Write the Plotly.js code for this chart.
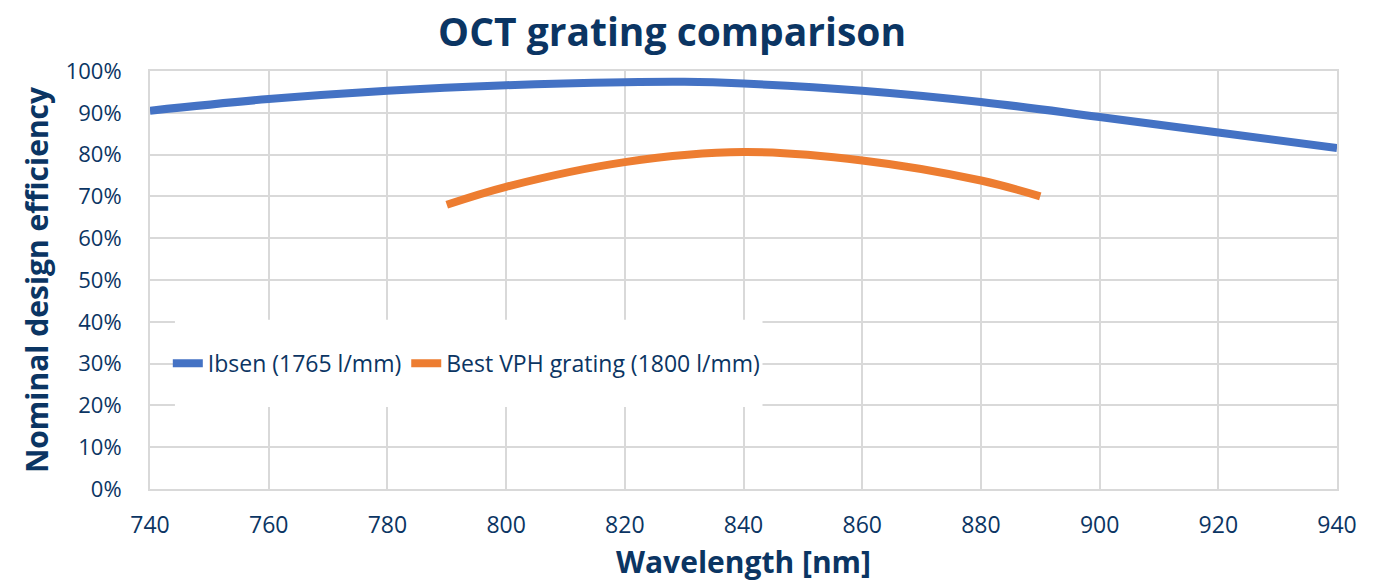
<!DOCTYPE html>
<html><head><meta charset="utf-8">
<script src="https://cdn.plot.ly/plotly-3.0.1.min.js"></script>
<style>html,body{margin:0;padding:0;background:#fff}#chart{width:1393px;height:582px}</style>
</head><body><div id="chart"></div>
<script>
const ibsenWl = [740, 760, 780, 800, 820, 830, 840, 860, 880, 900, 920, 940];
const ibsenEff = [90.5, 93.3, 95.3, 96.6, 97.3, 97.4, 97.0, 95.3, 92.6, 89.0, 85.3, 81.6];
const vphWl = [790, 800, 820, 840, 860, 880, 890];
const vphEff = [68.0, 72.3, 78.2, 80.6, 78.6, 73.8, 70.0];
const seriesNames = ["Ibsen (1765 l/mm)", "Best VPH grating (1800 l/mm)"];
const navy = "#0b3563";
const fontFam = "'Open Sans', Roboto, sans-serif";

const traces = [
  {x: ibsenWl, y: ibsenEff, name: seriesNames[0], mode: "lines",
   line: {color: "#4472c4", width: 8, shape: "spline", smoothing: 1.0}},
  {x: vphWl, y: vphEff, name: seriesNames[1], mode: "lines",
   line: {color: "#ed7d31", width: 8, shape: "spline", smoothing: 1.0}}
];
const layout = {
  width: 1393, height: 582,
  margin: {l: 150, r: 56, t: 71, b: 93},
  paper_bgcolor: "#fff", plot_bgcolor: "#fff",
  font: {family: fontFam, color: navy},
  title: {text: "<b>OCT grating comparison</b>", x: 0.4825, xanchor: "center", yref: "container", y: 0.945, yanchor: "middle",
          font: {size: 39, color: navy, family: fontFam}},
  xaxis: {range: [740, 940], dtick: 20, tick0: 740, showgrid: true, gridcolor: "#d9d9d9", gridwidth: 2,
          showline: true, linecolor: "#d9d9d9", linewidth: 2, mirror: true, zeroline: false, ticks: "",
          ticklabelstandoff: 14,
          tickfont: {size: 23, color: navy, family: fontFam},
          title: {text: "<b>Wavelength [nm]</b>", font: {size: 30, color: navy, family: fontFam}, standoff: 17}},
  yaxis: {range: [0, 100], dtick: 10, ticksuffix: "%", showgrid: true, gridcolor: "#d9d9d9", gridwidth: 2,
          showline: true, linecolor: "#d9d9d9", linewidth: 2, mirror: true, zeroline: false, ticks: "",
          ticklabelstandoff: 22,
          tickfont: {size: 22, color: navy, family: fontFam},
          title: {text: "<b>Nominal design efficiency</b>", font: {size: 30, color: navy, family: fontFam}, standoff: 8}},
  shapes: [{type: "rect", xref: "paper", yref: "paper", x0: 0.021, x1: 0.516, y0: 0.196, y1: 0.405,
            fillcolor: "#fff", line: {width: 0}, layer: "above"}],
  showlegend: true,
  legend: {orientation: "h", x: 0.015, y: 0.301, xanchor: "left", yanchor: "middle", bgcolor: "rgba(0,0,0,0)",
           font: {size: 23, color: navy, family: fontFam}, itemwidth: 30,
           borderwidth: 0}
};
Plotly.newPlot("chart", traces, layout, {displayModeBar: false, staticPlot: true});
</script></body></html>
